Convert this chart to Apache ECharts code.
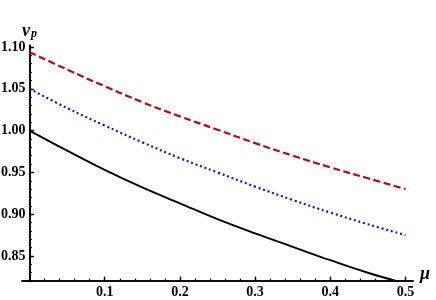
<!DOCTYPE html>
<html>
<head>
<meta charset="utf-8">
<script src="https://cdn.jsdelivr.net/npm/echarts@6/dist/echarts.min.js"></script>
<style>html,body{margin:0;padding:0;background:#fff}#c{width:436px;height:300px}</style>
</head>
<body>
<div id="c"></div>
<script>
// ---- data ----
var mu    = [0, 0.05, 0.10, 0.15, 0.20, 0.25, 0.30, 0.35, 0.40, 0.45, 0.50];
var black = [1.000, 0.976, 0.953, 0.932, 0.913, 0.894, 0.877, 0.861, 0.845, 0.830, 0.817];
var blue  = [1.050, 1.027, 1.006, 0.986, 0.967, 0.950, 0.933, 0.917, 0.902, 0.888, 0.875];
var red   = [1.094, 1.073, 1.053, 1.034, 1.017, 1.001, 0.985, 0.970, 0.956, 0.943, 0.930];
var xTickLabels = [0.1, 0.2, 0.3, 0.4, 0.5];
var yTickLabels = [0.85, 0.90, 0.95, 1.00, 1.05, 1.10];

// minor tick positions (styling only)
var xMinor = [], yMinor = [];
for (var i = 0; i <= 25; i++) xMinor.push(Math.round(i * 2) / 100);
for (var j = 82; j <= 110; j++) yMinor.push(j / 100);

function pts(ys) { return mu.map(function (m, k) { return [m, ys[k]]; }); }

var lblFont = { fontFamily: 'Liberation Serif', fontWeight: 'bold', fontSize: 14, color: '#000' };
var axLine = { show: true, onZero: true, lineStyle: { color: '#000', width: 1.6 } };
var axLineNoZero = { show: true, onZero: false, lineStyle: { color: '#000', width: 1.6 } };

var chart = echarts.init(document.getElementById('c'));
chart.setOption({
  animation: false,
  backgroundColor: '#fff',
  grid: { left: 22, right: 23, top: 45.3, bottom: 18.9, containLabel: false, outerBoundsMode: 'none' },
  xAxis: [
    {
      type: 'value', min: -0.01, max: 0.51, position: 'bottom', offset: 0,
      axisLine: axLineNoZero,
      axisTick: { show: true, inside: true, length: 2.5, customValues: xMinor, lineStyle: { color: '#000', width: 1.2 } },
      axisLabel: { show: false },
      splitLine: { show: false },
      name: 'μ', nameLocation: 'end', nameGap: 7,
      nameTextStyle: { fontFamily: 'Liberation Serif', fontStyle: 'italic', fontWeight: 'bold', fontSize: 18, lineHeight: 14, color: '#000', verticalAlign: 'bottom' }
    },
    {
      type: 'value', min: -0.01, max: 0.51, position: 'bottom', offset: 0,
      axisLine: axLineNoZero,
      axisTick: { show: true, inside: true, length: 4.5, customValues: xTickLabels, lineStyle: { color: '#000', width: 1.4 } },
      axisLabel: Object.assign({ show: true, customValues: xTickLabels, margin: 4, formatter: function (v) { return v.toFixed(1); } }, lblFont),
      splitLine: { show: false }
    }
  ],
  yAxis: [
    {
      type: 'value', min: 0.82, max: 1.102, position: 'left', offset: 0,
      axisLine: axLine,
      axisTick: { show: true, inside: true, length: 2.5, customValues: yMinor, lineStyle: { color: '#000', width: 1.2 } },
      axisLabel: { show: false },
      splitLine: { show: false },
      name: '{v|v}{p|p}', nameLocation: 'end', nameGap: 5,
      nameTextStyle: {
        align: 'center',
        rich: {
          v: { fontFamily: 'Liberation Serif', fontStyle: 'italic', fontWeight: 'bold', fontSize: 18, lineHeight: 18, verticalAlign: 'top', color: '#000' },
          p: { fontFamily: 'Liberation Serif', fontStyle: 'italic', fontWeight: 'bold', fontSize: 12, lineHeight: 12, padding: [10, 0, 0, 1], verticalAlign: 'bottom', color: '#000' }
        }
      }
    },
    {
      type: 'value', min: 0.82, max: 1.102, position: 'left', offset: -7.52,
      axisLine: axLineNoZero,
      axisTick: { show: true, inside: true, length: 4.5, customValues: yTickLabels, lineStyle: { color: '#000', width: 1.4 } },
      axisLabel: Object.assign({ show: true, customValues: yTickLabels, margin: 4, formatter: function (v) { return v.toFixed(2); } }, lblFont),
      splitLine: { show: false }
    }
  ],
  series: [
    { type: 'line', xAxisIndex: 0, yAxisIndex: 0, data: pts(black), smooth: 0.4, symbol: 'none', clip: true,
      lineStyle: { color: '#000', width: 1.9, type: 'solid' }, z: 3 },
    { type: 'line', xAxisIndex: 0, yAxisIndex: 0, data: pts(blue), smooth: 0.4, symbol: 'none', clip: true,
      lineStyle: { color: '#1414c8', width: 2.2, type: [2, 2.8] }, z: 3 },
    { type: 'line', xAxisIndex: 0, yAxisIndex: 0, data: pts(red), smooth: 0.4, symbol: 'none', clip: true,
      lineStyle: { color: '#b40c0c', width: 2.2, type: [7, 3.5] }, z: 3 }
  ]
});
</script>
</body>
</html>
